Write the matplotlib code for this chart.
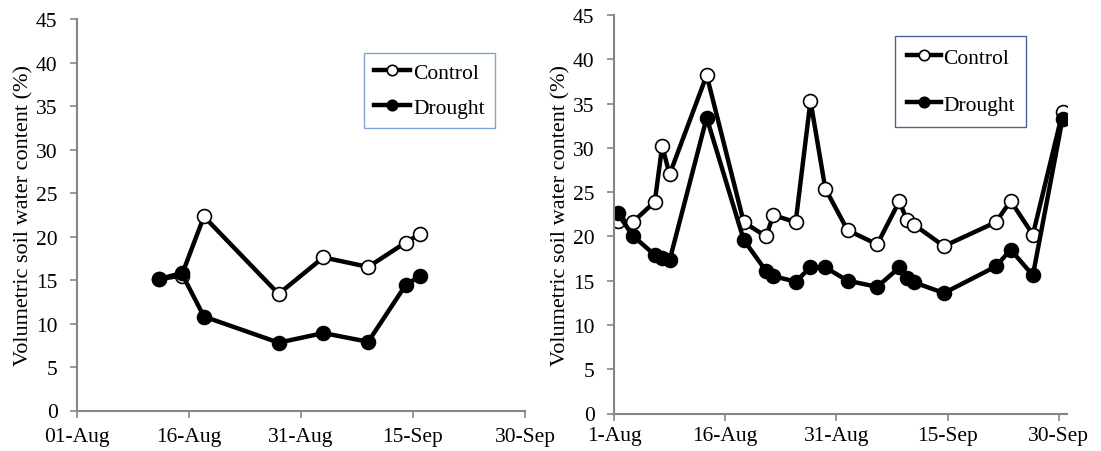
import pandas as pd
import matplotlib.pyplot as plt
import matplotlib.dates as mdates

plt.rcParams['font.family'] = ['Liberation Serif', 'DejaVu Serif']

# Left panel data
left_dates = ['2013-08-12', '2013-08-15', '2013-08-18', '2013-08-28',
              '2013-09-03', '2013-09-09', '2013-09-14', '2013-09-16']
left_control = [15.1, 15.5, 22.3, 13.4, 17.6, 16.5, 19.3, 20.3]
left_drought = [15.1, 15.8, 10.8, 7.8, 8.9, 7.9, 14.4, 15.5]

# Right panel data
right_dates = ['2013-08-01', '2013-08-03', '2013-08-06', '2013-08-07', '2013-08-08',
               '2013-08-13', '2013-08-18', '2013-08-21', '2013-08-22', '2013-08-25',
               '2013-08-27', '2013-08-29', '2013-09-01', '2013-09-05', '2013-09-08',
               '2013-09-09', '2013-09-10', '2013-09-14', '2013-09-21', '2013-09-23',
               '2013-09-26', '2013-09-30']
right_control = [21.7, 21.6, 23.9, 30.2, 27.0, 38.2, 21.6, 20.0, 22.4, 21.6,
                 35.3, 25.4, 20.7, 19.1, 24.0, 21.8, 21.3, 18.9, 21.6, 24.0,
                 20.2, 34.0]
right_drought = [22.6, 20.1, 17.9, 17.6, 17.3, 33.4, 19.6, 16.1, 15.5, 14.9,
                 16.5, 16.5, 15.0, 14.3, 16.5, 15.3, 14.8, 13.6, 16.6, 18.5,
                 15.6, 33.3]

tick_dates = ['2013-08-01', '2013-08-16', '2013-08-31', '2013-09-15', '2013-09-30']

fig = plt.figure(figsize=(11.01, 4.52), dpi=100)
ax1 = fig.add_axes([77 / 1101, 1 - 411.5 / 452, 448 / 1101, 391.5 / 452])
ax2 = fig.add_axes([614 / 1101, 1 - 414.5 / 452, 453 / 1101, 398.5 / 452])

line_kw = dict(color='black', linewidth=3.2, markersize=10, markeredgewidth=1.2,
               markeredgecolor='black')

# left
x1 = mdates.date2num(pd.to_datetime(left_dates))
ax1.plot(x1, left_control, marker='o', markerfacecolor='white', label='Control', **line_kw)
ax1.plot(x1, left_drought, marker='o', markerfacecolor='black', label='Drought', **line_kw)
ax1.set_xlim(mdates.date2num(pd.Timestamp('2013-08-01')), mdates.date2num(pd.Timestamp('2013-09-30')))

# right (points sit between tick marks, half a day shifted)
x2 = mdates.date2num(pd.to_datetime(right_dates)) + 0.5
ax2.plot(x2, right_control, marker='o', markerfacecolor='white', label='Control', **line_kw)
ax2.plot(x2, right_drought, marker='o', markerfacecolor='black', label='Drought', **line_kw)
start = mdates.date2num(pd.Timestamp('2013-08-01'))
ax2.set_xlim(start, start + 61.1)

ticks = mdates.date2num(pd.to_datetime(tick_dates))
for ax, fmt, xpad in [(ax1, '%d-%b', 7), (ax2, '%-d-%b', 4)]:
    ax.set_ylim(0, 45)
    ax.set_yticks(range(0, 46, 5))
    ax.set_xticks(ticks)
    ax.xaxis.set_major_formatter(mdates.DateFormatter(fmt))
    ax.spines['top'].set_visible(False)
    ax.spines['right'].set_visible(False)
    for s in ['left', 'bottom']:
        ax.spines[s].set_color('#868686')
        ax.spines[s].set_linewidth(1.5)
    ax.tick_params(direction='out', length=5, width=1.2, color='#868686',
                   labelsize=15.5)
    ax.tick_params(axis='y', pad=9)
    ax.tick_params(axis='x', pad=xpad)
    ax.set_ylabel('Volumetric soil water content (%)', fontsize=16, labelpad=1.5)

leg1 = ax1.legend(loc='upper left', bbox_to_anchor=(287 / 448, 1 - 34 / 391.5),
                  fontsize=15.5, frameon=True, fancybox=False, handlelength=1.7,
                  borderpad=0.45, labelspacing=0.7, handletextpad=0.15,
                  borderaxespad=0, markerscale=0.75)
leg1.get_frame().set_edgecolor('#5B8FD0')
leg1.get_frame().set_linewidth(1.0)

leg2 = ax2.legend(loc='upper left', bbox_to_anchor=(281 / 453, 1 - 21 / 398.5),
                  fontsize=15.5, frameon=True, fancybox=False, handlelength=1.6,
                  borderpad=0.55, labelspacing=1.25, handletextpad=0.08,
                  borderaxespad=0, markerscale=0.75)
leg2.get_frame().set_edgecolor('#1F3F7F')
leg2.get_frame().set_linewidth(1.0)

plt.savefig('out.png', dpi=100)
